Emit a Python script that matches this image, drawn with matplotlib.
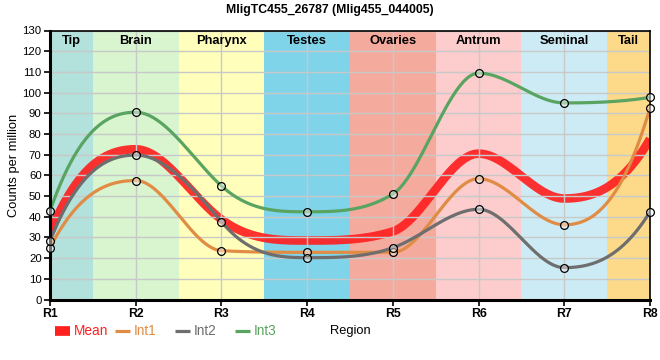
import numpy as np
import matplotlib.pyplot as plt
from matplotlib.lines import Line2D

plt.rcParams["font.family"] = ["Liberation Sans", "DejaVu Sans"]

regions = ["R1", "R2", "R3", "R4", "R5", "R6", "R7", "R8"]
tissues = ["Tip", "Brain", "Pharynx", "Testes", "Ovaries", "Antrum", "Seminal", "Tail"]
tissue_colors = ["#b3e2dd", "#d8f5d0", "#ffffbb", "#80d4ea",
                 "#f4ab9e", "#fdcccd", "#cdebf4", "#fdda8a"]

int1 = [25.0, 57.5, 23.6, 22.8, 22.8, 58.4, 36.1, 92.6]
int2 = [28.4, 69.8, 37.6, 20.2, 25.0, 43.6, 15.4, 42.4]
int3 = [42.8, 90.5, 54.9, 42.4, 51.0, 109.4, 95.0, 97.7]
mean = [32.1, 72.6, 38.7, 28.5, 32.9, 70.5, 48.8, 77.6]

series_names = ["Mean", "Int1", "Int2", "Int3"]
series_colors = {"Mean": "#ff2020", "Int1": "#e08c44", "Int2": "#6e6e6e", "Int3": "#5aa461"}


def smooth(x, y, n=50):
    # monotone cubic Hermite, with slightly stronger tangents than d3's
    # monotoneX so the transitions look like the reference
    x = np.asarray(x, float)
    y = np.asarray(y, float)
    h = np.diff(x)
    s = np.diff(y) / h
    t = np.zeros(len(x))
    for i in range(1, len(x) - 1):
        if s[i - 1] * s[i] <= 0:
            continue
        p = (s[i - 1] * h[i] + s[i] * h[i - 1]) / (h[i - 1] + h[i])
        t[i] = np.sign(p) * min(3 * abs(s[i - 1]), 3 * abs(s[i]), 2 * abs(p))

    def end_slope(sl, adj):
        v = 0.83 * (3 * sl - adj)
        if v * sl <= 0:
            return 0.0
        return np.sign(sl) * min(abs(v), 3 * abs(sl))

    t[0] = end_slope(s[0], t[1])
    t[-1] = end_slope(s[-1], t[-2])
    xs, ys = [], []
    for i in range(len(x) - 1):
        u = np.linspace(0, 1, n)
        h00 = 2 * u**3 - 3 * u**2 + 1
        h10 = u**3 - 2 * u**2 + u
        h01 = -2 * u**3 + 3 * u**2
        h11 = u**3 - u**2
        xs.append(x[i] + u * h[i])
        ys.append(h00 * y[i] + h10 * h[i] * t[i] + h01 * y[i + 1] + h11 * h[i] * t[i + 1])
    return np.concatenate(xs), np.concatenate(ys)


fig = plt.figure(figsize=(6.6, 3.6), dpi=100)
ax = fig.add_axes([50 / 660, 1 - 299.5 / 360, 600 / 660, 269 / 360])

xpos = np.arange(len(regions))
xmax = len(regions) - 1
for i, (name, col) in enumerate(zip(tissues, tissue_colors)):
    lo, hi = max(i - 0.5, 0), min(i + 0.5, xmax)
    ax.axvspan(lo, hi, color=col, lw=0, zorder=0)
    ax.text((lo + hi) / 2, 125, name, ha="center", va="center", fontsize=9.3,
            fontweight="bold", zorder=5)

ax.set_xlim(0, xmax)
ax.set_ylim(0, 130)
ax.set_yticks(np.arange(0, 131, 10))
ax.set_xticks(xpos)
ax.set_xticklabels(regions, fontweight="bold", fontsize=8.8)
ax.tick_params(axis="y", labelsize=8.2, length=4, width=1.2, pad=2)
ax.tick_params(axis="x", length=4, width=1.2, pad=2)
ax.grid(True, color="#c8c8c8", lw=1, zorder=1)
ax.set_axisbelow(False)
for sp in ["top", "right"]:
    ax.spines[sp].set_linewidth(1.2)
for sp in ["left", "bottom"]:
    ax.spines[sp].set_linewidth(2.2)
for sp in ax.spines.values():
    sp.set_zorder(6)

sx, sy = smooth(xpos, mean)
ax.plot(sx, sy, color=series_colors["Mean"], lw=6.2, alpha=0.92, zorder=2,
        solid_capstyle="butt")
for name, vals in [("Int1", int1), ("Int2", int2), ("Int3", int3)]:
    sx, sy = smooth(xpos, vals)
    ax.plot(sx, sy, color=series_colors[name], lw=2.3, zorder=3)
    ax.plot(xpos, vals, ls="none", marker="o", ms=5.6, mfc=(1, 1, 1, 0.45),
            mec="black", mew=0.9, zorder=7, clip_on=False)

ax.set_ylabel("Counts per million", fontsize=9.3)
ax.yaxis.set_label_coords(-36 / 600, 0.5)
ax.yaxis.label.set_va("center")
ax.set_xlabel("Region", fontsize=9.3)
ax.xaxis.set_label_coords(0.5, -(331 - 299.5) / 269)
ax.xaxis.label.set_va("center")
fig.text(0.5, 1 - 10 / 360, "MligTC455_26787 (Mlig455_044005)", fontsize=8.8,
         fontweight="bold", ha="center", va="center")

# legend row, drawn by hand to match the reference spacing
leg_y = 1 - 331 / 360
for k, name in enumerate(series_names):
    x0 = (55 + 60 * k) / 660
    x1 = (70 + 60 * k) / 660
    lw = 7 if name == "Mean" else 2.3
    fig.add_artist(Line2D([x0, x1], [leg_y, leg_y], color=series_colors[name],
                          lw=lw, solid_capstyle="butt"))
    fig.text(x1 + 4 / 660, leg_y, name, color=series_colors[name], fontsize=9.8,
             ha="left", va="center")

fig.savefig("out.png", dpi=100)
